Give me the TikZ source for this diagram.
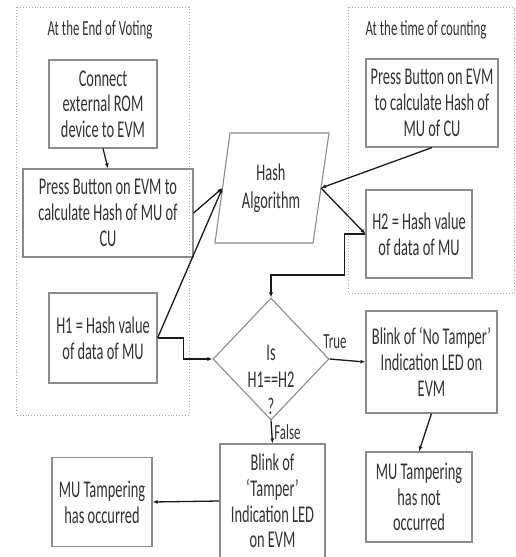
\documentclass[tikz,border=0pt]{standalone}
\usepackage{fontspec}
\setmainfont{Carlito}[FakeStretch=0.6]
\usetikzlibrary{arrows.meta,shapes.geometric}
\definecolor{boxgray}{HTML}{8C8C8C}
\definecolor{contgray}{HTML}{A8A8A8}
\definecolor{textgray}{HTML}{333333}
\definecolor{linec}{HTML}{1A1A1A}
\tikzset{
  stepbox/.style={draw=boxgray, line width=1.1pt, align=center, inner sep=2pt, text=textgray,
    font=\fontsize{24}{25.7}\selectfont},
  ttl/.style={text=textgray, font=\fontsize{21.5}{24}\selectfont, inner sep=0pt},
  cont/.style={draw=contgray, dotted, line width=0.9pt},
  conn/.style={draw=linec, line width=1.3pt, -{Latex[length=5pt,width=4pt]}},
  lbl/.style={text=textgray, font=\fontsize{21.5}{24}\selectfont, inner sep=1pt}
}
\begin{document}
\begin{tikzpicture}[x=1pt,y=-1pt]
\useasboundingbox (0,0) rectangle (516,557);
\fill[white] (0,0) rectangle (516,557);
% containers
\draw[cont] (16,7) rectangle (189,415);
\draw[cont] (348,7) rectangle (514,293);
\node[ttl] (t1) at (100,30) {At the End of Voting};
\node[ttl] (t2) at (426,30) {At the time of counting};
% left boxes
\node[stepbox, minimum width=108, minimum height=88] (conn) at (103,104) {Connect\\external ROM\\device to EVM};
\node[stepbox, minimum width=170, minimum height=88] (pressL) at (108,213) {Press Button on EVM to\\calculate Hash of MU of\\CU};
\node[stepbox, minimum width=108, minimum height=90] (h1) at (103,338) {H1 = Hash value\\of data of MU};
% hash algorithm
\draw[draw=boxgray, line width=1.1pt] (230,133) -- (329,133) -- (313,243) -- (215,243) -- cycle;
\node[text=textgray, align=center, font=\fontsize{24}{28}\selectfont] (hash) at (271,188) {Hash\\Algorithm};
\coordinate (hashL) at (222.5,188);
\coordinate (hashR) at (321,188);
% right boxes
\node[stepbox, minimum width=132, minimum height=88] (pressR) at (432,103) {Press Button on EVM\\to calculate Hash of\\MU of CU};
\node[stepbox, minimum width=106, minimum height=88] (h2) at (419,234) {H2 = Hash value\\of data of MU};
% decision
\node[diamond, draw=boxgray, line width=1.1pt, minimum width=116, minimum height=122, inner sep=0pt] (dia) at (271,359) {};
\node[text=textgray, align=center, font=\fontsize{24}{27}\selectfont] (diatxt) at (271,380) {Is\\H1==H2\\?};
% results
\node[stepbox, minimum width=131, minimum height=102] (notamp) at (431.5,362) {Blink of `No Tamper'\\Indication LED on\\EVM};
\node[stepbox, minimum width=106, minimum height=90] (munot) at (419,497) {MU Tampering\\has not\\occurred};
\node[stepbox, minimum width=105, minimum height=114] (tamp) at (272.5,501) {Blink of\\`Tamper'\\Indication LED\\on EVM};
\node[stepbox, minimum width=100, minimum height=89] (muocc) at (102,502) {MU Tampering\\has occurred};
% connectors
\draw[conn] (conn.south) -- (pressL.north);
\draw[conn] (pressL.east) -- (hashL);
\draw[conn] (h1.east) -- (hashL);
\draw[conn] (h1.east) -- ++(26,0) |- (dia.west);
\draw[conn] (pressR.south) -- (hashR);
\draw[conn] (hashR) -- (h2.west);
\draw[conn] (h2.west) -- ++(-21,0) -- ++(0,41) -| (dia.north);
\draw[conn] (dia.east) -- node[lbl, pos=0.15, above=9pt] (ltrue) {True} (notamp.west);
\draw[conn] (notamp.south) -- (munot.north);
\draw[conn] (dia.south) -- node[lbl, right=1pt] (lfalse) {False} (tamp.north);
\draw[conn] (tamp.west) -- (muocc.east);
\end{tikzpicture}
\end{document}
